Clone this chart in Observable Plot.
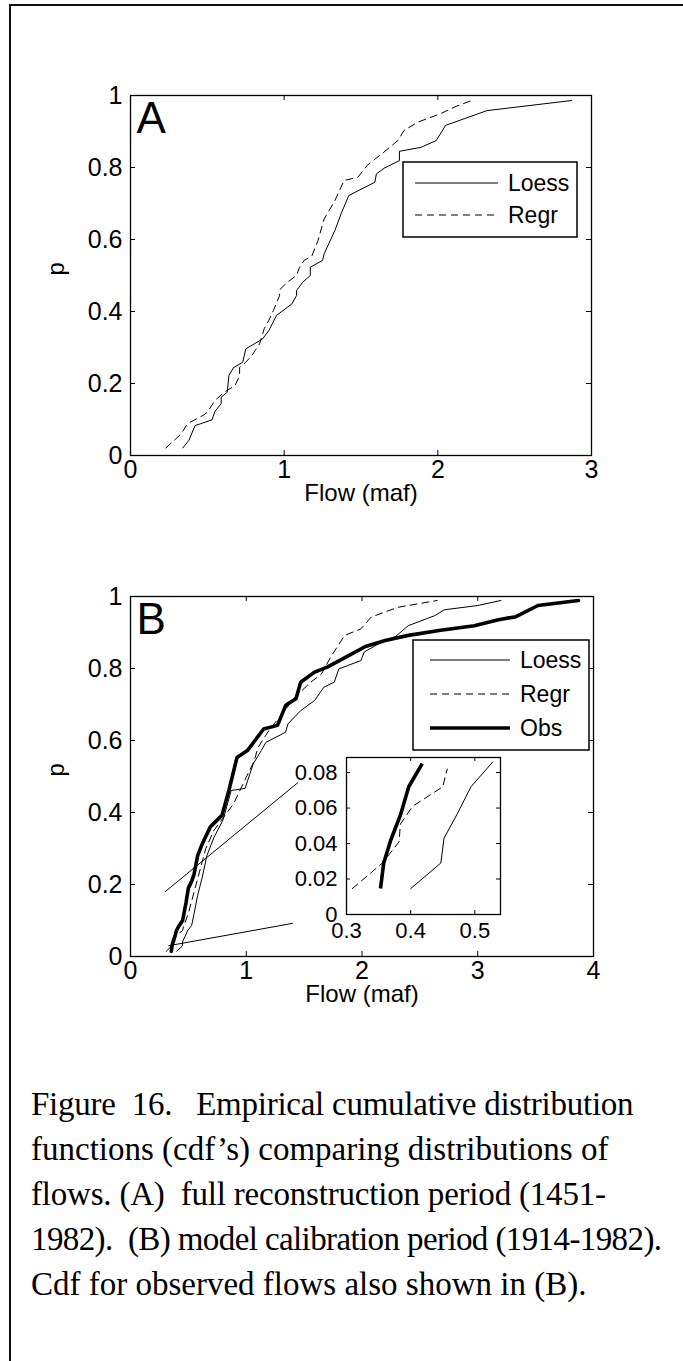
<!DOCTYPE html>
<html>
<head>
<meta charset="utf-8">
<script src="https://cdn.jsdelivr.net/npm/d3@7"></script>
<script src="https://cdn.jsdelivr.net/npm/@observablehq/plot@0.6"></script>
<style>
  html, body { margin: 0; padding: 0; background: white; }
  #page { position: relative; width: 683px; height: 1361px; overflow: hidden; background: white; }
  .abs { position: absolute; }
  #caption { position: absolute; left: 31px; top: 1082px; width: 650px;
    font-family: "Liberation Serif", "Times New Roman", serif; font-size: 33px; line-height: 45px; color: #000; }
  #caption div { white-space: pre; height: 45px; }
</style>
</head>
<body>
<div id="page">
  <div class="abs" style="left:9px; top:4px; width:2px; height:1361px; background:#111;"></div>
  <div class="abs" style="left:9px; top:4px; width:674px; height:2px; background:#111;"></div>
  <div id="panelA" class="abs" style="left:0; top:0;"></div>
  <div id="panelB" class="abs" style="left:0; top:500px;"></div>
  <div id="inset" class="abs" style="left:270px; top:740px;"></div>
  <div id="caption"></div>
</div>
<script>
// ---------- Data ----------
// Panel A: full reconstruction period
const aLoessX = [0.34,0.38,0.42,0.53,0.55,0.59,0.59,0.63,0.64,0.67,0.73,0.75,0.86,0.90,0.95,1.05,1.08,1.08,1.12,1.17,1.17,1.25,1.26,1.29,1.33,1.37,1.42,1.59,1.60,1.65,1.75,1.75,1.89,1.99,2.05,2.32,2.87];
const aLoessP = [0.021,0.042,0.083,0.099,0.123,0.144,0.162,0.176,0.222,0.244,0.259,0.296,0.324,0.347,0.389,0.421,0.444,0.458,0.481,0.500,0.523,0.542,0.560,0.588,0.625,0.671,0.722,0.759,0.782,0.798,0.819,0.845,0.856,0.875,0.917,0.958,0.986];
const aRegrX = [0.23,0.33,0.37,0.47,0.50,0.55,0.61,0.68,0.71,0.71,0.75,0.79,0.84,0.87,0.90,0.93,0.97,0.97,1.02,1.08,1.10,1.13,1.18,1.22,1.26,1.33,1.39,1.48,1.54,1.65,1.74,1.78,1.87,2.02,2.12,2.22];
const aRegrP = [0.021,0.060,0.088,0.111,0.120,0.153,0.176,0.194,0.222,0.245,0.259,0.278,0.310,0.352,0.375,0.403,0.444,0.460,0.481,0.500,0.523,0.542,0.554,0.597,0.657,0.708,0.764,0.773,0.806,0.843,0.875,0.903,0.926,0.950,0.970,0.986];

// Panel B: calibration period
const bLoessX = [0.40,0.447,0.452,0.473,0.494,0.528,0.55,0.58,0.62,0.66,0.72,0.80,0.87,0.99,1.06,1.13,1.17,1.34,1.36,1.47,1.59,1.67,1.76,1.80,1.99,2.02,2.14,2.29,2.40,2.63,2.71,3.00,3.20];
const bLoessP = [0.0146,0.029,0.043,0.057,0.072,0.086,0.12,0.17,0.22,0.28,0.33,0.38,0.461,0.467,0.535,0.572,0.595,0.623,0.646,0.683,0.711,0.748,0.762,0.799,0.822,0.846,0.868,0.889,0.919,0.947,0.963,0.975,0.989];
const bRegrX = [0.309,0.356,0.382,0.384,0.403,0.45,0.457,0.50,0.55,0.60,0.65,0.72,0.89,1.00,1.07,1.10,1.20,1.30,1.42,1.55,1.65,1.73,1.85,1.99,2.08,2.31,2.65];
const bRegrP = [0.0146,0.029,0.041,0.051,0.061,0.072,0.082,0.12,0.18,0.24,0.30,0.35,0.424,0.498,0.544,0.58,0.63,0.67,0.72,0.76,0.785,0.832,0.892,0.91,0.943,0.97,0.989];
const bObsX = [0.353,0.358,0.369,0.384,0.397,0.418,0.45,0.48,0.50,0.53,0.55,0.58,0.62,0.69,0.79,0.85,0.92,1.01,1.15,1.27,1.34,1.36,1.43,1.47,1.59,1.70,1.88,2.03,2.20,2.40,2.68,2.97,3.17,3.33,3.52,3.87];
const bObsP = [0.0146,0.029,0.042,0.056,0.072,0.085,0.10,0.15,0.19,0.21,0.23,0.28,0.313,0.36,0.392,0.461,0.553,0.572,0.632,0.642,0.697,0.702,0.716,0.762,0.79,0.804,0.835,0.861,0.878,0.892,0.906,0.919,0.935,0.944,0.975,0.989];

// connector lines from the zoomed region to the inset (data coordinates of panel B)
const connUpperX = [0.30, 1.446];
const connUpperP = [0.18, 0.483];
const connLowerX = [0.33, 1.40];
const connLowerP = [0.03, 0.092];

// ticks
const aXTicks = [0, 1, 2, 3];
const bXTicks = [0, 1, 2, 3, 4];
const pTicks = [0, 0.2, 0.4, 0.6, 0.8, 1];
const insetXTicks = [0.3, 0.4, 0.5];
const insetYTicks = [0, 0.02, 0.04, 0.06, 0.08];

const seriesNames = ["Loess", "Regr", "Obs"];
const captionLines = [
  "Figure  16.   Empirical cumulative distribution",
  "functions (cdf\u2019s) comparing distributions of",
  "flows. (A)  full reconstruction period (1451-",
  "1982).  (B) model calibration period (1914-1982).",
  "Cdf for observed flows also shown in (B)."
];
const captionSpacing = ["-0.25px", "0px", "-0.2px", "-0.6px", "0px"];

// ---------- helpers ----------
const FONT = "'Liberation Sans', Arial, sans-serif";
const FS = 25;
const FSI = 22;
const fmt = d => String(d);
const zip = (xs, ps) => xs.map((x, i) => ({x, p: ps[i]}));
const styleLoess = {stroke: "#000", strokeWidth: 1};
const styleRegr = {stroke: "#000", strokeWidth: 1, strokeDasharray: "7,5"};
const styleObs = {stroke: "#000", strokeWidth: 3.6, strokeLinejoin: "round"};

function inwardTicks(xTicks, yTicks, pw, ph, len) {
  return [
    Plot.tickX(xTicks, {x: d => d, insetTop: ph - len, stroke: "#000"}),
    Plot.tickX(xTicks, {x: d => d, insetBottom: ph - len, stroke: "#000"}),
    Plot.tickY(yTicks, {y: d => d, insetRight: pw - len, stroke: "#000"}),
    Plot.tickY(yTicks, {y: d => d, insetLeft: pw - len, stroke: "#000"})
  ];
}

function addLegend(svg, box, entries) {
  const g = d3.select(svg).append("g").attr("text-anchor", "start");
  g.append("rect").attr("x", box.x).attr("y", box.y).attr("width", box.w).attr("height", box.h)
    .attr("fill", "white").attr("stroke", "#000").attr("stroke-width", 1.5);
  entries.forEach((e, i) => {
    const y = box.y + box.first + i * box.step;
    g.append("line").attr("x1", box.x + box.lx1).attr("x2", box.x + box.lx2).attr("y1", y).attr("y2", y)
      .attr("stroke", "#000").attr("stroke-width", e.style.strokeWidth)
      .attr("stroke-dasharray", e.style.strokeDasharray || null);
    g.append("text").attr("x", box.x + box.tx).attr("y", y).attr("dy", "0.35em")
      .attr("text-anchor", "start")
      .attr("font-family", FONT).attr("font-size", 23).attr("fill", "#000").text(e.name);
  });
}

// ---------- Panel A ----------
const W = 683, H = 520;
const mA = {top: 95, bottom: 65, left: 130, right: 92};
const pwA = W - mA.left - mA.right, phA = H - mA.top - mA.bottom;
const plotA = Plot.plot({
  width: W, height: H,
  marginTop: mA.top, marginBottom: mA.bottom, marginLeft: mA.left, marginRight: mA.right,
  style: {fontFamily: FONT, fontSize: FS + "px", background: "transparent", color: "#000"},
  x: {domain: [0, 3], ticks: aXTicks},
  y: {domain: [0, 1], ticks: pTicks},
  marks: [
    Plot.line(zip(aRegrX, aRegrP), {x: "x", y: "p", ...styleRegr}),
    Plot.line(zip(aLoessX, aLoessP), {x: "x", y: "p", ...styleLoess}),
    Plot.frame({stroke: "#000", strokeWidth: 1.3}),
    ...inwardTicks(aXTicks, pTicks, pwA, phA, 5),
    Plot.axisX(aXTicks, {tickSize: 0, tickPadding: 5, fontSize: FS, label: null, tickFormat: fmt}),
    Plot.axisY(pTicks, {tickSize: 0, tickPadding: 8, fontSize: FS, label: null, tickFormat: fmt}),
    Plot.text(["Flow (maf)"], {frameAnchor: "bottom", dy: 45, fontSize: 24}),
    Plot.text(["p"], {frameAnchor: "left", dx: -74, rotate: -90, fontSize: 24}),
    Plot.text(["A"], {frameAnchor: "top-left", dx: 6, dy: 6, fontSize: 44, textAnchor: "start", lineAnchor: "top"})
  ]
});
document.getElementById("panelA").appendChild(plotA);
addLegend(plotA, {x: 403, y: 162, w: 174, h: 75, first: 21, step: 32, lx1: 12, lx2: 95, tx: 105},
  [{name: seriesNames[0], style: styleLoess}, {name: seriesNames[1], style: styleRegr}]);

// ---------- Panel B ----------
const mB = {top: 96, bottom: 64, left: 130, right: 90};
const pwB = W - mB.left - mB.right, phB = H - mB.top - mB.bottom;
const plotB = Plot.plot({
  width: W, height: H,
  marginTop: mB.top, marginBottom: mB.bottom, marginLeft: mB.left, marginRight: mB.right,
  style: {fontFamily: FONT, fontSize: FS + "px", background: "transparent", color: "#000"},
  x: {domain: [0, 4], ticks: bXTicks},
  y: {domain: [0, 1], ticks: pTicks},
  marks: [
    Plot.line(zip(connUpperX, connUpperP), {x: "x", y: "p", stroke: "#000", strokeWidth: 1}),
    Plot.line(zip(connLowerX, connLowerP), {x: "x", y: "p", stroke: "#000", strokeWidth: 1}),
    Plot.line(zip(bRegrX, bRegrP), {x: "x", y: "p", ...styleRegr}),
    Plot.line(zip(bLoessX, bLoessP), {x: "x", y: "p", ...styleLoess}),
    Plot.line(zip(bObsX, bObsP), {x: "x", y: "p", ...styleObs}),
    Plot.frame({stroke: "#000", strokeWidth: 1.3}),
    ...inwardTicks(bXTicks, pTicks, pwB, phB, 5),
    Plot.axisX(bXTicks, {tickSize: 0, tickPadding: 5, fontSize: FS, label: null, tickFormat: fmt}),
    Plot.axisY(pTicks, {tickSize: 0, tickPadding: 8, fontSize: FS, label: null, tickFormat: fmt}),
    Plot.text(["Flow (maf)"], {frameAnchor: "bottom", dy: 45, fontSize: 24}),
    Plot.text(["p"], {frameAnchor: "left", dx: -74, rotate: -90, fontSize: 24}),
    Plot.text(["B"], {frameAnchor: "top-left", dx: 6, dy: 6, fontSize: 44, textAnchor: "start", lineAnchor: "top"})
  ]
});
document.getElementById("panelB").appendChild(plotB);
addLegend(plotB, {x: 413, y: 140, w: 176, h: 110, first: 20, step: 34, lx1: 17, lx2: 97, tx: 107},
  [{name: seriesNames[0], style: styleLoess}, {name: seriesNames[1], style: styleRegr}, {name: seriesNames[2], style: styleObs}]);

// ---------- Inset ----------
const IW = 250, IH = 210;
const mI = {top: 17, bottom: 36, left: 76, right: 20};
const pwI = IW - mI.left - mI.right, phI = IH - mI.top - mI.bottom;
const plotI = Plot.plot({
  width: IW, height: IH,
  marginTop: mI.top, marginBottom: mI.bottom, marginLeft: mI.left, marginRight: mI.right,
  style: {fontFamily: FONT, fontSize: FSI + "px", background: "transparent", color: "#000", overflow: "visible"},
  x: {domain: [0.3, 0.54], ticks: insetXTicks},
  y: {domain: [0, 0.0885], ticks: insetYTicks},
  marks: [
    Plot.frame({fill: "white", stroke: "none"}),
    Plot.line(zip(bRegrX, bRegrP).filter(d => d.p < 0.09), {x: "x", y: "p", ...styleRegr, clip: true}),
    Plot.line(zip(bLoessX, bLoessP).filter(d => d.p < 0.09), {x: "x", y: "p", ...styleLoess, clip: true}),
    Plot.line(zip(bObsX, bObsP).filter(d => d.p < 0.09), {x: "x", y: "p", ...styleObs, strokeLinecap: "butt", clip: true}),
    Plot.frame({stroke: "#000", strokeWidth: 1.3}),
    ...inwardTicks(insetXTicks, insetYTicks, pwI, phI, 4),
    Plot.axisX(insetXTicks, {tickSize: 0, tickPadding: 8, fontSize: FSI, label: null, tickFormat: fmt}),
    Plot.axisY(insetYTicks, {tickSize: 0, tickPadding: 9, fontSize: FSI, label: null, tickFormat: d => d === 0 ? "0" : d3.format(".2f")(d)})
  ]
});
document.getElementById("inset").appendChild(plotI);

// ---------- Caption ----------
const cap = d3.select("#caption");
captionLines.forEach((t, i) => {
  cap.append("div").text(t).style("letter-spacing", captionSpacing[i]);
});
</script>
</body>
</html>
